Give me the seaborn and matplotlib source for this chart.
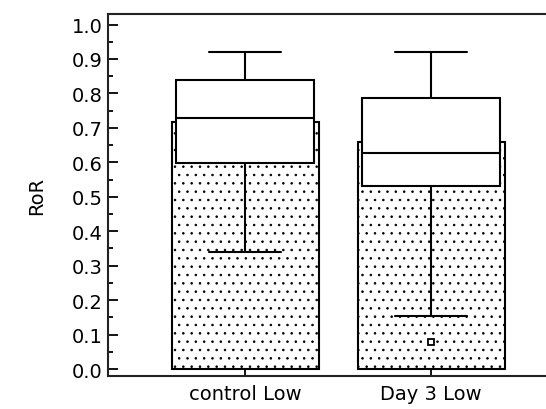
import matplotlib
matplotlib.use("Agg")
import matplotlib.pyplot as plt
import seaborn as sns
import pandas as pd
from matplotlib.ticker import MultipleLocator, FormatStrFormatter

# ---- data ----
categories = ["control Low", "Day 3 Low"]
bar_values = [0.716, 0.658]
whisker_low = [0.34, 0.154]
q1 = [0.598, 0.531]
median = [0.728, 0.628]
q3 = [0.839, 0.786]
whisker_high = [0.92, 0.92]
outliers = [[], [0.078]]

sns.set_style("white")
plt.rcParams["font.family"] = ["DejaVu Sans"]
plt.rcParams["hatch.linewidth"] = 0.6
plt.rcParams["hatch.color"] = "black"
plt.rcParams["text.color"] = "black"
plt.rcParams["axes.labelcolor"] = "black"
plt.rcParams["xtick.color"] = "black"
plt.rcParams["ytick.color"] = "black"

fig = plt.figure(figsize=(5.46, 4.10), dpi=100)
ax = fig.add_axes([0.198, 0.0805, 0.85, 0.8825])

df = pd.DataFrame({"group": categories, "RoR": bar_values})
sns.barplot(data=df, x="group", y="RoR", ax=ax, color="white",
            edgecolor="black", linewidth=1.5, width=0.79, hatch="..",
            errorbar=None, zorder=1)

stats = []
for i, c in enumerate(categories):
    stats.append(dict(label=c, whislo=whisker_low[i], q1=q1[i], med=median[i],
                      q3=q3[i], whishi=whisker_high[i], fliers=outliers[i]))
ax.bxp(stats, positions=[0, 1], widths=0.74, capwidths=0.39,
       patch_artist=True, manage_ticks=False,
       boxprops=dict(facecolor="white", edgecolor="black", linewidth=1.5),
       medianprops=dict(color="black", linewidth=1.5),
       whiskerprops=dict(color="black", linewidth=1.5),
       capprops=dict(color="black", linewidth=1.5),
       flierprops=dict(marker="s", markersize=4, markerfacecolor="white",
                       markeredgecolor="black", markeredgewidth=1.3),
       zorder=3)

ax.set_xlim(-0.737, 1.758)
ax.set_ylim(-0.02, 1.03)
ax.set_xticks([0, 1])
ax.set_xticklabels(categories, fontsize=14, color="black")
ax.set_xlabel("")
ax.set_ylabel("RoR", fontsize=14, labelpad=18, color="black")
ax.yaxis.set_major_locator(MultipleLocator(0.1))
ax.yaxis.set_minor_locator(MultipleLocator(0.05))
ax.yaxis.set_major_formatter(FormatStrFormatter("%.1f"))
ax.tick_params(axis="y", which="major", direction="in", length=7, width=1.3,
               labelsize=14, pad=4, left=True, labelcolor="black")
ax.tick_params(axis="y", which="minor", direction="in", length=3.5, width=1.3, left=True)
ax.tick_params(axis="x", which="major", direction="in", length=6, width=1.3,
               labelsize=14, pad=6, bottom=True, labelcolor="black")

for s in ["left", "bottom", "top"]:
    ax.spines[s].set_color("#222222")
    ax.spines[s].set_linewidth(1.5)
ax.spines["right"].set_visible(False)

fig.savefig("out.png", dpi=100)
